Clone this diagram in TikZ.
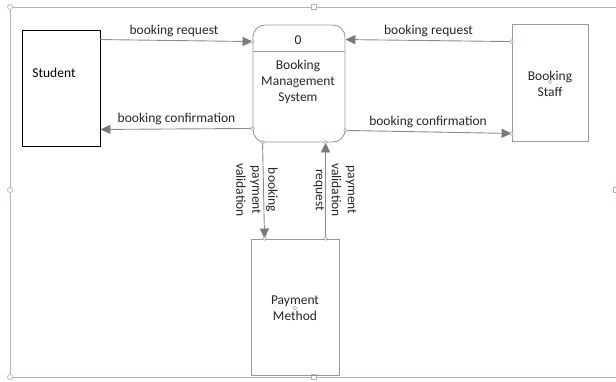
\documentclass[tikz,border=0pt]{standalone}
\usepackage{fontspec}
\setmainfont{Carlito}
\usetikzlibrary{arrows.meta,calc}
\definecolor{flowline}{HTML}{8C8C8C}
\definecolor{flowhead}{HTML}{7A7A7A}
\definecolor{boxline}{HTML}{9A9A9A}
\definecolor{txt}{HTML}{262626}
\definecolor{selframe}{HTML}{A7B8CC}
\definecolor{pin}{HTML}{9AA4E8}
\tikzset{
  lbl/.style={font=\fontsize{13.5}{16}\selectfont, text=txt, inner sep=0pt, align=center},
  entity/.style={draw=boxline, line width=0.9pt, minimum width=#1, inner sep=0pt},
  flow/.style={draw=flowline, line width=0.9pt,
    -{Triangle[length=10pt,width=9pt,color=flowhead,fill=flowhead]}},
  pinpt/.style={draw=pin, line width=0.6pt, fill=white},
  handle/.style={draw=selframe, line width=0.7pt, fill=white},
}
\begin{document}
\begin{tikzpicture}[x=1pt,y=-1pt]
\useasboundingbox (0,0) rectangle (616,381);

% selection frame around the drawing
\draw[selframe, line width=0.8pt] (616,7) -- (10,7) -- (10,377) -- (616,377);
\draw[handle] (10,7) circle (2.5);
\draw[handle] (10,190) circle (2.5);
\draw[handle] (10,377) circle (2.5);
\draw[handle] (311.5,4.5) rectangle (316.5,9.5);
\draw[handle] (311.5,374.5) rectangle (316.5,379.5);
\draw[handle] (613.5,187.5) rectangle (618.5,192.5);

% external entities and the process
\node[entity=78pt, minimum height=116pt, draw=black] (student) at (61,88) {};
\node[lbl, text=black] (studentlbl) at (54,73) {Student};

\node[entity=92pt, minimum height=117pt, rounded corners=12pt] (proc) at (299,83.5) {};
\draw[boxline, line width=0.9pt] ($(proc.north west)+(0,26.5)$) -- ($(proc.north east)+(0,26.5)$);
\node[lbl] (procid) at (298,40) {0};
\node[lbl] (proclbl) at (298,81.5) {Booking\\Management\\System};

\node[entity=76pt, minimum height=117pt] (staff) at (550,82.5) {};
\node[lbl] (stafflbl) at (550,83.5) {Booking\\Staff};

\node[entity=88pt, minimum height=136pt] (pay) at (295,307) {};
\node[lbl] (paylbl) at (295,308.5) {Payment\\Method};

% connection points of the flows
\coordinate (sReqOut) at ($(student.north east)+(0,10)$);
\coordinate (pReqIn)  at ($(proc.north west)+(0,17)$);
\coordinate (pConfOut) at ($(proc.south west)+(0,-14)$);
\coordinate (sConfIn) at ($(student.south east)+(0,-17)$);
\coordinate (tReqOut) at ($(staff.north west)+(0,18)$);
\coordinate (pReqIn2) at ($(proc.north east)+(0,15)$);
\coordinate (pConfOut2) at ($(proc.south east)+(0,-12)$);
\coordinate (tConfIn) at ($(staff.south west)+(0,-8)$);
\coordinate (pValOut) at ($(proc.south west)+(10,0)$);
\coordinate (mValIn)  at ($(pay.north west)+(14,0)$);
\coordinate (mReqOut) at ($(pay.north west)+(75,0)$);
\coordinate (pReqIn3) at ($(proc.south west)+(73,0)$);

% data flows
\draw[flow] (sReqOut) -- (pReqIn);
\draw[flow] (pConfOut) -- (sConfIn);
\draw[flow] (tReqOut) -- (pReqIn2);
\draw[flow] (pConfOut2) -- (tConfIn);
\draw[flow] (pValOut) -- (mValIn);
\draw[flow] (mReqOut) -- (pReqIn3);

% flow labels
\node[lbl] (l1) at (174,30.5) {booking request};
\node[lbl] (l2) at (176.5,119) {booking confirmation};
\node[lbl] (l3) at (428.5,30.5) {booking request};
\node[lbl] (l4) at (428,121.5) {booking confirmation};
\node[lbl, rotate=-90] (l5) at (257,190) {booking\\payment\\validation};
\node[lbl, rotate=-90] (l6) at (335,190) {payment\\validation\\request};

% glue points on shapes
\foreach \p in {pReqIn,pConfOut,tReqOut,pConfOut2,tConfIn,pValOut,mValIn,mReqOut,pReqIn3}
  \draw[pinpt] (\p) circle (1.8);
\draw[pinpt] (296,84) circle (1.8);
\draw[pinpt] (550,82) circle (1.8);
\draw[pinpt] (295,308) circle (1.8);
\end{tikzpicture}
\end{document}
